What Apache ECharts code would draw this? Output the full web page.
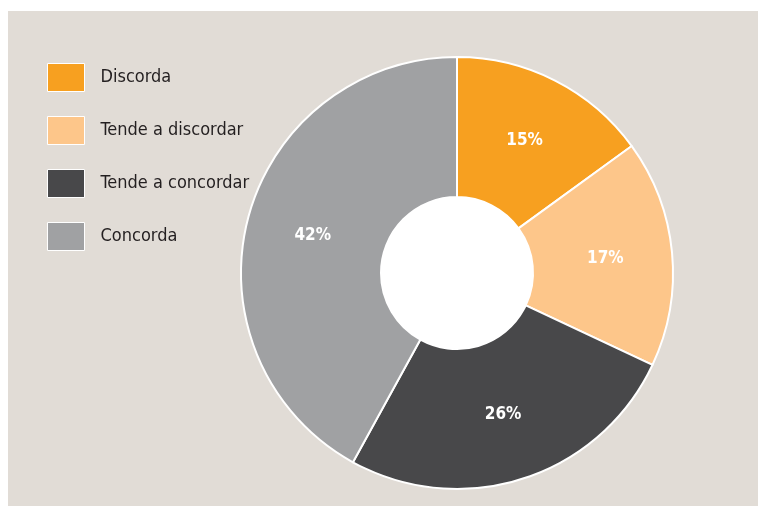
<!DOCTYPE html>
<html>
<head>
<meta charset="utf-8">
<script src="https://cdn.jsdelivr.net/npm/echarts@6/dist/echarts.min.js"></script>
<style>
  html, body { margin: 0; padding: 0; background: #ffffff; }
  #panel { position: absolute; left: 8px; top: 11px; width: 750px; height: 495px; background: #e1dcd6; }
  #chart { width: 750px; height: 495px; }
</style>
</head>
<body>
<div id="panel"><div id="chart"></div></div>
<script>
// answer categories and shares (%)
const categories = ["Discorda", "Tende a discordar", "Tende a concordar", "Concorda"];
const shares = [15, 17, 26, 42];
const colors = ["#f7a020", "#fdc68a", "#48484a", "#a0a1a3"];

const chart = echarts.init(document.getElementById("chart"));
const font = "'DejaVu Sans Condensed', 'Liberation Sans Narrow', sans-serif";

let option = {
  color: colors,
  animation: false,
  legend: {
    orient: "vertical",
    left: 34,
    top: 47,
    icon: "rect",
    itemWidth: 37,
    itemHeight: 28,
    itemGap: 24,
    itemStyle: { borderColor: "#ffffff", borderWidth: 1 },
    textStyle: {
      color: "#231f20",
      fontSize: 18,
      fontFamily: font,
      padding: [0, 0, 0, 11],
    },
    data: categories,
  },
  series: [
    {
      type: "pie",
      center: [449, 262],
      radius: [76, 216],
      startAngle: 90,
      clockwise: true,
      itemStyle: { borderColor: "#ffffff", borderWidth: 2 },
      label: {
        position: "inside",
        formatter: "{c}%",
        color: "#ffffff",
        fontSize: 17,
        fontWeight: "bold",
        fontFamily: font,
      },
      labelLine: { show: false },
      emphasis: { disabled: true },
      data: categories.map((name, i) => ({ name: name, value: shares[i] })),
    },
    {
      // white hole in the middle
      type: "pie",
      center: [449, 262],
      radius: [0, 76],
      silent: true,
      label: { show: false },
      labelLine: { show: false },
      itemStyle: { color: "#ffffff" },
      data: [{ name: "", value: 1 }],
    },
  ],
};
chart.setOption(option, true);
</script>
</body>
</html>
